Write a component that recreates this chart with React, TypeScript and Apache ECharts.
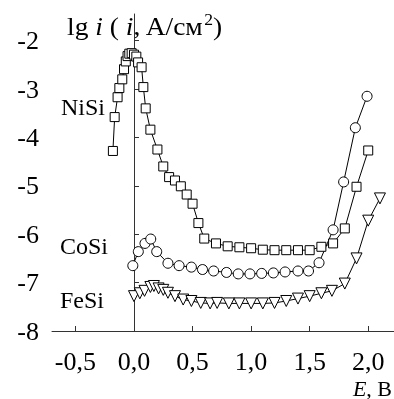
import React, { useEffect, useRef } from 'react';
import * as echarts from 'echarts';

const xTicks = [-0.5, 0, 0.5, 1.0, 1.5, 2.0];
const yTicks = [-8, -7, -6, -5, -4, -3, -2];

const niSiE = [-0.18, -0.165, -0.14, -0.125, -0.1, -0.085, -0.07, -0.055, -0.04, -0.02, 0.0, 0.02, 0.035, 0.065, 0.08, 0.1, 0.14, 0.2, 0.25, 0.3, 0.35, 0.4, 0.45, 0.5, 0.55, 0.6, 0.7, 0.8, 0.9, 1.0, 1.1, 1.2, 1.3, 1.4, 1.5, 1.6, 1.7, 1.8, 1.9, 2.0];
const niSiLg = [-4.28, -3.58, -3.17, -2.98, -2.8, -2.59, -2.43, -2.32, -2.27, -2.26, -2.29, -2.33, -2.45, -2.55, -2.96, -3.4, -3.84, -4.25, -4.6, -4.82, -4.89, -5.01, -5.18, -5.37, -5.77, -6.09, -6.19, -6.25, -6.27, -6.29, -6.32, -6.33, -6.33, -6.33, -6.33, -6.26, -6.19, -5.88, -5.02, -4.27];

const coSiE = [-0.01, 0.037, 0.094, 0.143, 0.194, 0.29, 0.385, 0.49, 0.585, 0.68, 0.79, 0.89, 0.99, 1.09, 1.19, 1.29, 1.4, 1.49, 1.58, 1.7, 1.79, 1.89, 1.99];
const coSiLg = [-6.65, -6.36, -6.19, -6.1, -6.36, -6.6, -6.65, -6.68, -6.73, -6.76, -6.79, -6.82, -6.82, -6.81, -6.8, -6.78, -6.76, -6.76, -6.59, -5.91, -4.92, -3.8, -3.15];

const feSiE = [0.0, 0.05, 0.09, 0.14, 0.17, 0.21, 0.25, 0.29, 0.35, 0.42, 0.49, 0.57, 0.65, 0.71, 0.81, 0.9, 1.0, 1.1, 1.2, 1.3, 1.4, 1.5, 1.6, 1.69, 1.8, 1.9, 2.0, 2.1];
const feSiLg = [-7.28, -7.22, -7.17, -7.09, -7.07, -7.12, -7.15, -7.21, -7.28, -7.35, -7.38, -7.42, -7.43, -7.42, -7.43, -7.43, -7.43, -7.43, -7.42, -7.38, -7.33, -7.28, -7.22, -7.17, -7.02, -6.5, -5.72, -5.26];

const FONT = '"Liberation Serif", "Times New Roman", serif';

function pairs(xs: number[], ys: number[]) {
  return xs.map((x, i) => [x, ys[i]]);
}

export default function App() {
  const ref = useRef<HTMLDivElement>(null);
  useEffect(() => {
    if (!ref.current) return;
    const chart = echarts.init(ref.current, undefined, { renderer: 'svg' });
    const markerStyle = { color: '#fff', borderColor: '#000', borderWidth: 1 };
    const lineStyle = { color: '#000', width: 1 };
    chart.setOption({
      animation: false,
      grid: { left: 52, right: 0, top: 14, bottom: 68, containLabel: false, outerBoundsMode: 'none' },
      xAxis: {
        type: 'value',
        min: -0.7,
        max: 2.22,
        axisLine: { show: true, lineStyle: { color: '#333', width: 1 } },
        axisTick: { show: true, inside: true, length: 5, customValues: xTicks, lineStyle: { color: '#333' } },
        axisLabel: {
          customValues: xTicks,
          formatter: (v: number) => v.toFixed(1).replace('.', ','),
          fontFamily: FONT,
          fontSize: 26,
          color: '#000',
          margin: 17,
        },
        splitLine: { show: false },
      },
      yAxis: {
        type: 'value',
        min: -8,
        max: -1.45,
        axisLine: { show: true, lineStyle: { color: '#333', width: 1 } },
        axisTick: { show: true, inside: true, length: 5, customValues: yTicks, lineStyle: { color: '#333' } },
        axisLabel: {
          customValues: yTicks,
          formatter: (v: number) => String(v),
          fontFamily: FONT,
          fontSize: 26,
          color: '#000',
          margin: 13,
        },
        splitLine: { show: false },
      },
      series: [
        {
          name: 'NiSi', type: 'line', data: pairs(niSiE, niSiLg),
          symbol: 'rect', symbolSize: 9, showAllSymbol: true,
          itemStyle: markerStyle, lineStyle,
        },
        {
          name: 'CoSi', type: 'line', data: pairs(coSiE, coSiLg),
          symbol: 'circle', symbolSize: 10, showAllSymbol: true,
          itemStyle: markerStyle, lineStyle,
        },
        {
          name: 'FeSi', type: 'line', data: pairs(feSiE, feSiLg),
          symbol: 'triangle', symbolRotate: 180, symbolSize: 11, showAllSymbol: true,
          itemStyle: markerStyle, lineStyle,
        },
      ],
      graphic: [
        {
          type: 'text', x: 67, y: 27, scaleX: 1.1,
          style: {
            text: '{n|lg }{it|i}{n| ( }{it|i}{n|, A/cм}{sup|2}{n|)}',
            verticalAlign: 'middle',
            rich: {
              n: { fontFamily: FONT, fontSize: 25, fill: '#000' },
              it: { fontFamily: FONT, fontSize: 25, fontStyle: 'italic', fill: '#000' },
              sup: { fontFamily: FONT, fontSize: 16, fill: '#000', padding: [0, 0, 14, 0] },
            },
          },
        },
        { type: 'text', x: 61, y: 107, style: { text: 'NiSi', fontFamily: FONT, fontSize: 24, fill: '#000', verticalAlign: 'middle' } },
        { type: 'text', x: 60, y: 246, style: { text: 'CoSi', fontFamily: FONT, fontSize: 24, fill: '#000', verticalAlign: 'middle' } },
        { type: 'text', x: 60, y: 300, style: { text: 'FeSi', fontFamily: FONT, fontSize: 24, fill: '#000', verticalAlign: 'middle' } },
        {
          type: 'text', x: 392, y: 388,
          style: {
            text: '{it|E}{n|, B}',
            align: 'right',
            verticalAlign: 'middle',
            rich: {
              n: { fontFamily: FONT, fontSize: 22, fill: '#000' },
              it: { fontFamily: FONT, fontSize: 22, fontStyle: 'italic', fill: '#000' },
            },
          },
        },
      ],
    });
    return () => chart.dispose();
  }, []);
  return <div ref={ref} style={{ position: 'fixed', left: 0, top: 0, width: 394, height: 399 }} />;
}
